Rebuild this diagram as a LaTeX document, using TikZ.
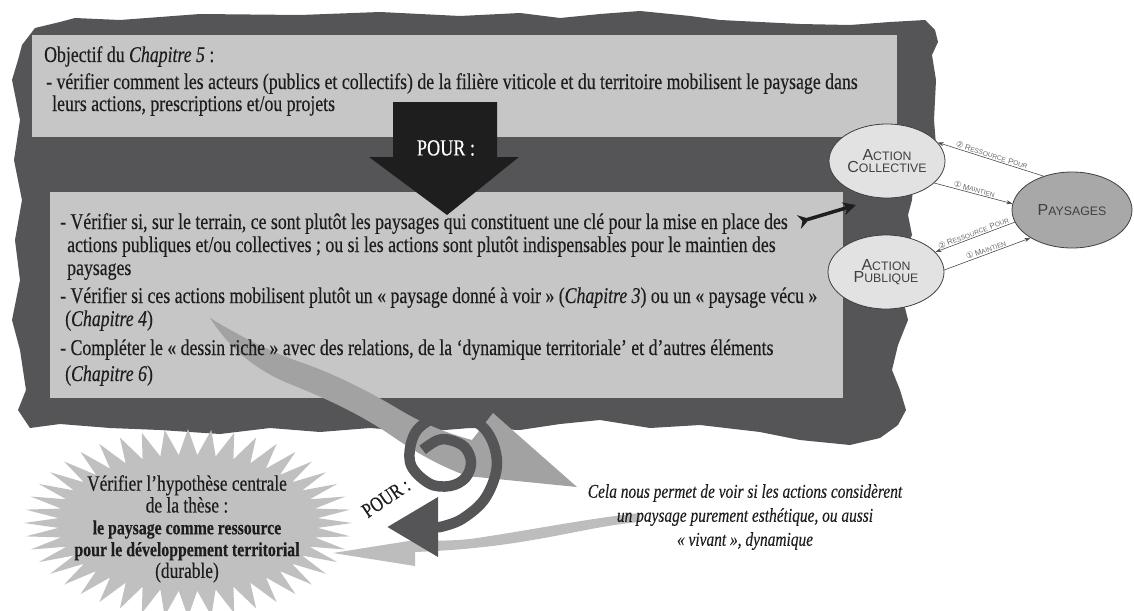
\documentclass[tikz,border=0pt]{standalone}
\usepackage{fontspec}
\setmainfont{Liberation Serif}
\newfontfamily\condserif[FakeStretch=0.79,FakeBold=0.3]{Liberation Serif}
\newfontfamily\capsans{Liberation Sans}
\newfontfamily\symsans{DejaVu Sans}
\usetikzlibrary{arrows.meta,shapes.geometric}
\definecolor{brush}{HTML}{555557}
\definecolor{panel}{HTML}{C6C6C6}
\definecolor{ink}{HTML}{1E1E1E}
\definecolor{bubble}{HTML}{E2E2E2}
\definecolor{landsc}{HTML}{A8A8A8}
\definecolor{ribbon}{HTML}{A2A2A2}
\definecolor{ribbonlight}{HTML}{BDBDBD}
\definecolor{starfill}{HTML}{C0C0C0}
\definecolor{labelgray}{HTML}{6A6A6A}
\newcommand\bodyfont{\condserif\fontsize{22.5}{23}\selectfont}
\newcommand\sccaps[2]{{\fontsize{16}{18}\selectfont #1}{\fontsize{12.3}{18}\selectfont #2}}
\newcommand\tinycaps[2]{{\fontsize{8}{9}\selectfont #1}{\fontsize{6.6}{9}\selectfont #2}}
\newcommand\circnum[1]{{\symsans\fontsize{8.5}{9}\selectfont #1}}
\begin{document}
\begin{tikzpicture}[x=1pt,y=-1pt,
  body/.style={anchor=base west, inner sep=0pt, font=\bodyfont, text=ink},
  ell/.style={ellipse, draw=ink!85, line width=0.8pt, fill=bubble, minimum width=116pt,
    minimum height=74pt, inner sep=0pt, align=center, font=\capsans, text=ink!85},
  rel/.style={draw=ink!80, line width=0.6pt, -{Stealth[length=6pt,width=4pt]}},
  lab/.style={font=\capsans, text=labelgray, inner sep=1pt, sloped, above}]
\useasboundingbox (0,0) rectangle (1134,610);

% rough brush-stroke backdrop
\fill[brush] (22,45) -- (35,28) -- (60,22) -- (75,18) -- (120,20) -- (200,14) -- (300,15)
  -- (380,12) -- (460,16) -- (520,13) -- (560,18) -- (600,14) -- (640,11) -- (690,16)
  -- (720,20) -- (760,22) -- (800,24) -- (850,25) -- (890,22) -- (925,20) -- (935,30)
  -- (938,42) -- (932,55) -- (936,80) -- (934,120) -- (936,145) -- (915,160) -- (912,200)
  -- (908,215) -- (912,235) -- (905,250) -- (903,300) -- (908,320) -- (898,345) -- (892,370)
  -- (900,390) -- (906,410) -- (898,425) -- (880,438) -- (850,445) -- (800,440) -- (760,432)
  -- (700,425) -- (650,428) -- (600,420) -- (560,424) -- (520,430) -- (470,428) -- (420,432)
  -- (370,428) -- (320,432) -- (270,428) -- (220,434) -- (160,430) -- (110,428) -- (60,424)
  -- (30,428) -- (18,410) -- (26,390) -- (20,350) -- (12,320) -- (20,280) -- (15,240)
  -- (22,200) -- (14,160) -- (20,120) -- (12,80) -- (18,60) -- cycle;

% panels
\fill[panel] (32,35) rectangle (897,137);
\fill[panel] (50,192) rectangle (843,398);

% gray ribbon running from the panel to the note
\fill[ribbon] (210,318) .. controls (235,333) and (265,350) .. (300,362)
  .. controls (335,374) and (370,392) .. (400,410)
  .. controls (425,425) and (450,434) .. (472,440) -- (493,413) -- (577,487) -- (467,476)
  .. controls (440,466) and (415,452) .. (392,436)
  .. controls (360,414) and (325,398) .. (290,384)
  .. controls (260,372) and (232,352) .. cycle;

% big downward arrow
\fill[ink] (393,102) -- (497,102) -- (497,157) -- (519,157) -- (447,215) -- (369,157)
  -- (393,157) -- cycle;
\node[font=\condserif\fontsize{23}{24}\selectfont, text=white] (pour1) at (446,148) {POUR :};

% text of the upper panel
\node[body] (t0) at (44,62) {Objectif du \textit{Chapitre 5} :};
\node[body] (t1) at (46,89) {- vérifier comment les acteurs (publics et collectifs) de la filière viticole et du territoire mobilisent le paysage dans};
\node[body] (t2) at (52,111) {leurs actions, prescriptions et/ou projets};

% text of the lower panel
\node[body] (u1) at (60,229) {- Vérifier si, sur le terrain, ce sont plutôt les paysages qui constituent une clé pour la mise en place des};
\node[body] (u2) at (67,252) {actions publiques et/ou collectives ; ou si les actions sont plutôt indispensables pour le maintien des};
\node[body] (u3) at (67,275) {paysages};
\node[body] (u4) at (60,303) {- Vérifier si ces actions mobilisent plutôt un «~paysage donné à voir~» (\textit{Chapitre 3}) ou un «~paysage vécu~»};
\node[body] (u5) at (65,326) {(\textit{Chapitre 4})};
\node[body] (u6) at (60,355) {- Compléter le «~dessin riche~» avec des relations, de la ‘dynamique territoriale’ et d’autres éléments};
\node[body] (u7) at (65,381) {(\textit{Chapitre 6})};

% starburst
\fill[starfill] plot[samples=89, domain=0:360, variable=\t]
  ({188+(147+17*cos(44*\t))*cos(\t)}, {523+(81+13*cos(44*\t))*sin(\t)}) -- cycle;
\node[align=center, inner sep=0pt, anchor=north, text=ink,
  font=\condserif\fontsize{22}{21.8}\selectfont] (hyp) at (187,475)
  {Vérifier l’hypothèse centrale\\de la thèse :\\{\fontsize{20}{21.8}\selectfont\bfseries le paysage comme ressource}\\{\fontsize{20}{21.8}\selectfont\bfseries pour le développement territorial}\\(durable)};

% light ribbon back to the starburst
\fill[ribbonlight] (640,513) .. controls (590,518) and (520,532) .. (470,539)
  .. controls (450,541) and (430,541) .. (415,540) -- (333,553) -- (415,566) -- (415,552)
  .. controls (440,551) and (470,549) .. (500,545)
  .. controls (560,537) and (600,525) .. (640,522) -- cycle;

% dark spiral ending in an arrowhead
\draw[brush, line width=10.5pt, -{Triangle[length=51pt,width=57pt]}]
  plot[smooth, tension=0.6] coordinates {(422.6,449.8) (437.5,440.3) (450,440) (464.8,447.2)
  (471,462) (465.6,477.6) (450,486) (428.8,483.2) (410,462) (417.5,429.5) (450,414)
  (483.9,428.1) (497,462) (486,497) (462,519) (440,527)}
  -- (387,527);
\node[rotate=34, font=\condserif\fontsize{21}{22}\selectfont, text=ink] (pour2) at (386,498) {POUR :};

% note on the right
\node[align=center, inner sep=0pt, anchor=north, text=ink,
  font=\condserif\itshape\fontsize{19.5}{24}\selectfont] (cela) at (745,484)
  {Cela nous permet de voir si les actions considèrent\\un paysage purement esthétique, ou aussi\\«~vivant~», dynamique};

% actors and landscapes
\node[ell] (ac) at (887,161) {\sccaps{A}{CTION}\\\sccaps{C}{OLLECTIVE}};
\node[ell] (ap) at (886,272) {\sccaps{A}{CTION}\\\sccaps{P}{UBLIQUE}};
\node[ell, fill=landsc, minimum width=120pt, minimum height=76pt] (pay) at (1072,210) {\sccaps{P}{AYSAGES}};

\draw[rel] (pay.130) -- node[lab] {\circnum{②}\,\tinycaps{R}{ESSOURCE} \tinycaps{P}{OUR}} (ac.20);
\draw[rel] (ac.-25) -- node[lab] {\circnum{①}\,\tinycaps{M}{AINTIEN}} (pay.174);
\draw[rel] (pay.192) -- node[lab] {\circnum{②}\,\tinycaps{R}{ESSOURCE} \tinycaps{P}{OUR}} (ap.22);
\draw[rel] (ap.2) -- node[lab] {\circnum{①}\,\tinycaps{M}{AINTIEN}} (pay.214);

% pointer from the panel towards the actors
\coordinate (ptail) at (799,222);
\coordinate (phead) at (856,205);
\draw[ink, line width=3.5pt, {Stealth[reversed,length=11pt,width=14pt]}-{Stealth[length=13pt,width=13pt]}]
  (ptail) -- (phead);
\end{tikzpicture}
\end{document}
